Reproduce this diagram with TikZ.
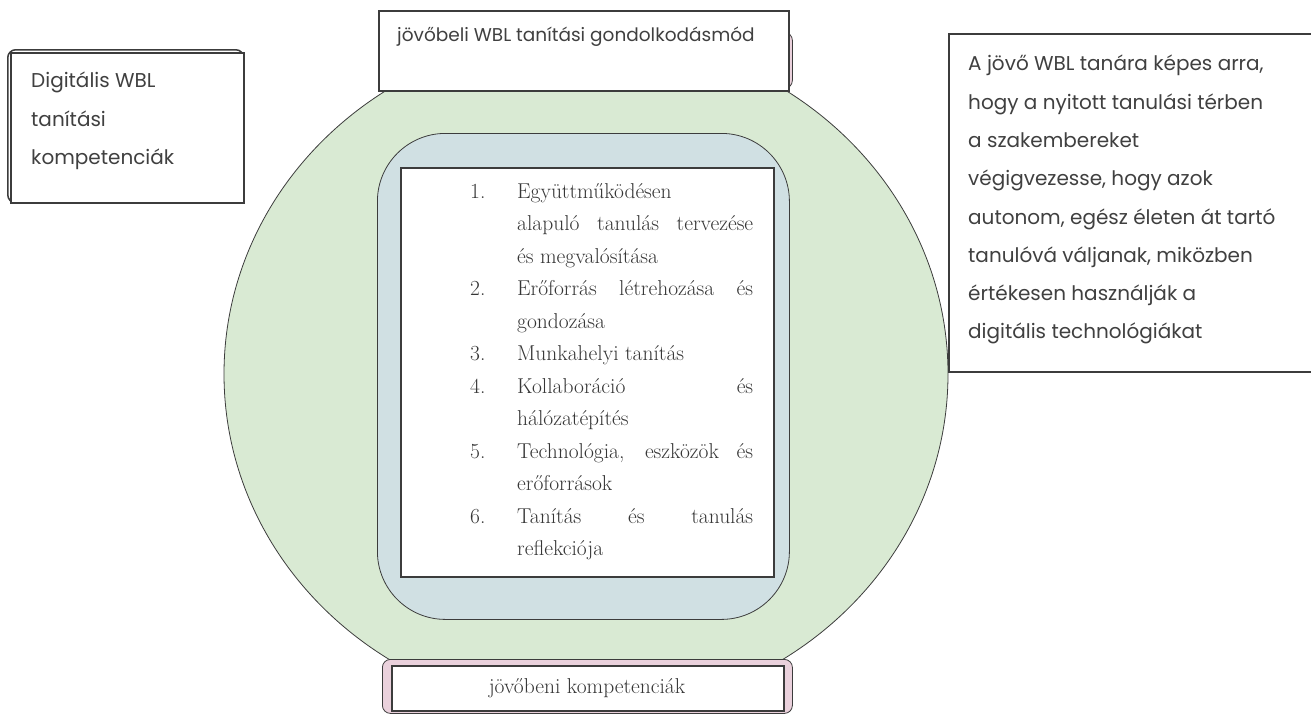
\documentclass[tikz,border=0pt]{standalone}
\usepackage{fontspec}
\usetikzlibrary{shapes.geometric}
\newfontfamily\popfont{Poppins}
\definecolor{ringgreen}{HTML}{D9EAD3}
\definecolor{panelblue}{HTML}{D0E0E3}
\definecolor{tabpink}{HTML}{EAD1DC}
\definecolor{linegray}{HTML}{3C3C3C}
\definecolor{textgray}{HTML}{404040}

\begin{document}
\begin{tikzpicture}[x=1pt, y=-1pt]

\tikzstyle{box}=[rectangle, draw=linegray, fill=white, line width=1.5pt, inner sep=0pt, anchor=north west]
\tikzstyle{tab}=[rectangle, rounded corners=8pt, draw=linegray, fill=tabpink, line width=0.8pt, inner sep=0pt, anchor=north west]
\tikzstyle{sans}=[inner sep=0pt, text=textgray, font=\popfont\fontsize{20}{38.3}\selectfont, align=left]
\tikzstyle{serif}=[inner sep=0pt, text=textgray!85!black, font=\fontsize{21.5}{32.5}\selectfont]

\useasboundingbox (0,0) rectangle (1311,713);

% left box
\node[box, rounded corners=8pt] (digitalBack) at (7,49) [minimum width=236pt, minimum height=153pt] {};
\node[box] (digital) at (10,52) [minimum width=233pt, minimum height=150pt] {};
\node[sans, anchor=north west] (digitalText) at (31,72) {Digitális WBL\\tanítási\\kompetenciák};

% circle with the panel
\node[ellipse, draw=linegray, fill=ringgreen, line width=0.8pt, minimum width=724pt, minimum height=680pt, inner sep=0pt] (ring) at (586,374) {};
\node[box, fill=panelblue, line width=0.8pt, rounded corners=68pt] (panel) at (377,133) [minimum width=412pt, minimum height=486pt] {};
\node[box] (list) at (400,167) [minimum width=373pt, minimum height=409pt] {};

\node[serif, anchor=north west] (listText) at (470,175.25) {%
\begin{tabular}{@{}p{47pt}@{}l@{}}
1. & Együttműködésen\\
   & \makebox[236pt][s]{alapuló tanulás tervezése}\\
   & és megvalósítása\\
2. & \makebox[236pt][s]{Erőforrás létrehozása és}\\
   & gondozása\\
3. & Munkahelyi tanítás\\
4. & \makebox[236pt][s]{Kollaboráció és}\\
   & hálózatépítés\\
5. & \makebox[236pt][s]{Technológia, eszközök és}\\
   & erőforrások\\
6. & \makebox[236pt][s]{Tanítás és tanulás}\\
   & reflekciója
\end{tabular}};

% top
\node[tab] (mindsetTab) at (382,32) [minimum width=410pt, minimum height=56pt] {};
\node[box] (mindset) at (378,10) [minimum width=410pt, minimum height=80pt] {};
\node[sans, anchor=base west, font=\popfont\fontsize{18.5}{38.3}\selectfont] (mindsetText) at (397,41) {jövőbeli WBL tanítási gondolkodásmód};

% bottom
\node[tab] (futureTab) at (382,659) [minimum width=410pt, minimum height=54pt] {};
\node[box] (future) at (391,665) [minimum width=392pt, minimum height=45pt] {};
\node[serif] (futureText) at (587,688) {jövőbeni kompetenciák};

% right box
\node[box] (goal) at (948,33) [minimum width=400pt, minimum height=338pt] {};
\node[sans, anchor=north west] (goalText) at (968,55) {A jövő WBL tanára képes arra,\\hogy a nyitott tanulási térben\\a szakembereket\\végigvezesse, hogy azok\\autonom, egész életen át tartó\\tanulóvá váljanak, miközben\\értékesen használják a\\digitális technológiákat};

\end{tikzpicture}
\end{document}
